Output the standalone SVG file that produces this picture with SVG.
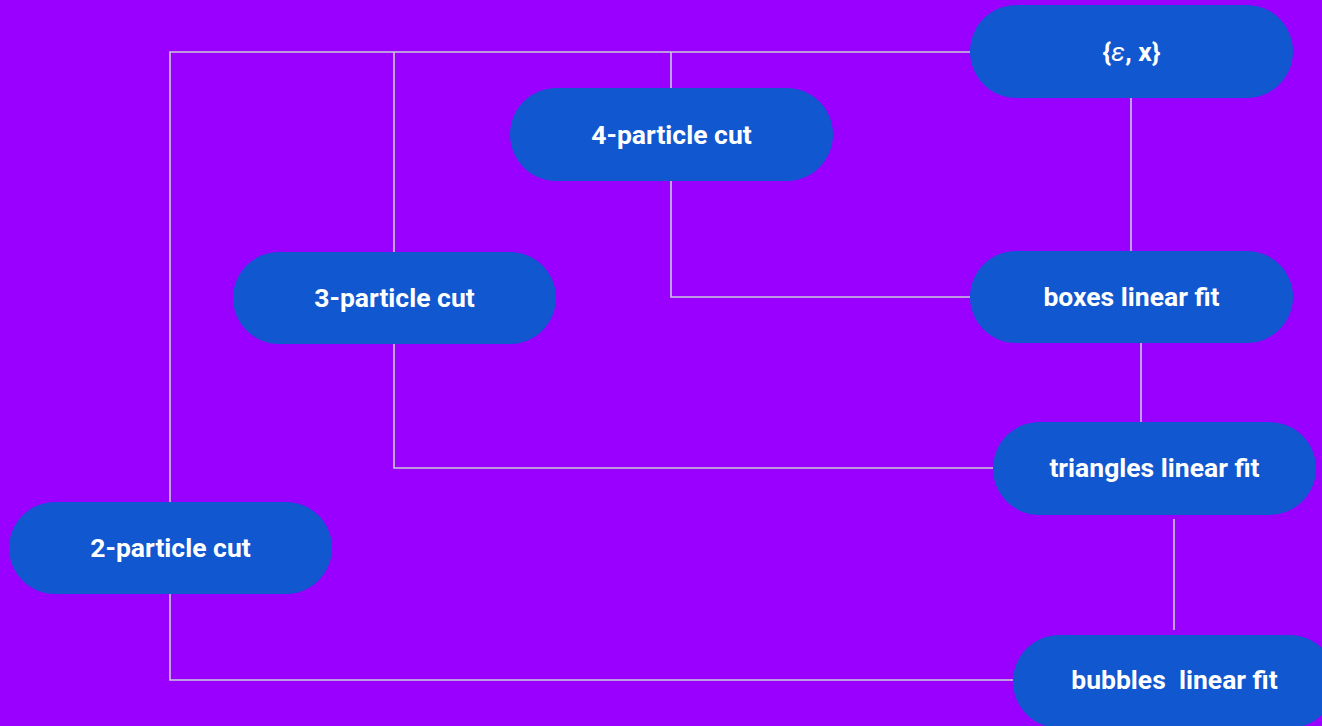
<svg xmlns="http://www.w3.org/2000/svg" width="1322" height="726" viewBox="0 0 1322 726">
  <style>
    .node rect { fill: #1157cf; }
    .node text { fill: #ffffff; font-family: Roboto, "Liberation Sans", sans-serif; font-weight: bold; font-size: 26.5px; text-anchor: middle; white-space: pre; }
    .edge { fill: none; stroke: #c9c9d6; stroke-width: 1.6; }
  </style>
  <rect width="1322" height="726" fill="#9900ff"/>

  <g id="connectors">
    <!-- top bus from {ε, x} to the cut nodes -->
    <polyline class="edge" points="970,52 170,52 170,502"/>
    <line class="edge" x1="394" y1="52" x2="394" y2="252"/>
    <line class="edge" x1="671" y1="52" x2="671" y2="88"/>
    <!-- {ε, x} to boxes -->
    <line class="edge" x1="1131" y1="98" x2="1131" y2="251"/>
    <!-- 4-particle cut to boxes -->
    <polyline class="edge" points="671,181 671,297 970,297"/>
    <!-- 3-particle cut to triangles -->
    <polyline class="edge" points="394,344 394,468 993,468"/>
    <!-- 2-particle cut to bubbles -->
    <polyline class="edge" points="170,594 170,680 1013,680"/>
    <!-- chain of fits -->
    <line class="edge" x1="1141" y1="311" x2="1141" y2="422"/>
    <line class="edge" x1="1174" y1="519" x2="1174" y2="630"/>
  </g>

  <g id="node-eps-x" class="node">
    <rect x="970" y="5" width="323" height="93" rx="46.5"/>
    <text x="1131.5" y="61">{<tspan font-style="italic" font-weight="normal">ε</tspan>, x}</text>
  </g>
  <g id="node-4cut" class="node">
    <rect x="510" y="88" width="323" height="93" rx="46.5"/>
    <text x="671.5" y="144">4-particle cut</text>
  </g>
  <g id="node-3cut" class="node">
    <rect x="233" y="252" width="323" height="92" rx="46"/>
    <text x="394.5" y="307">3-particle cut</text>
  </g>
  <g id="node-boxes" class="node">
    <rect x="970" y="251" width="323" height="92" rx="46"/>
    <text x="1131.5" y="306">boxes linear fit</text>
  </g>
  <g id="node-triangles" class="node">
    <rect x="993" y="422" width="323" height="93" rx="46.5"/>
    <text x="1154.5" y="477">triangles linear fit</text>
  </g>
  <g id="node-2cut" class="node">
    <rect x="9" y="502" width="323" height="92" rx="46"/>
    <text x="170.5" y="557">2-particle cut</text>
  </g>
  <g id="node-bubbles" class="node">
    <rect x="1013" y="635" width="323" height="93" rx="46.5"/>
    <text x="1174.5" y="689">bubbles  linear fit</text>
  </g>
</svg>
